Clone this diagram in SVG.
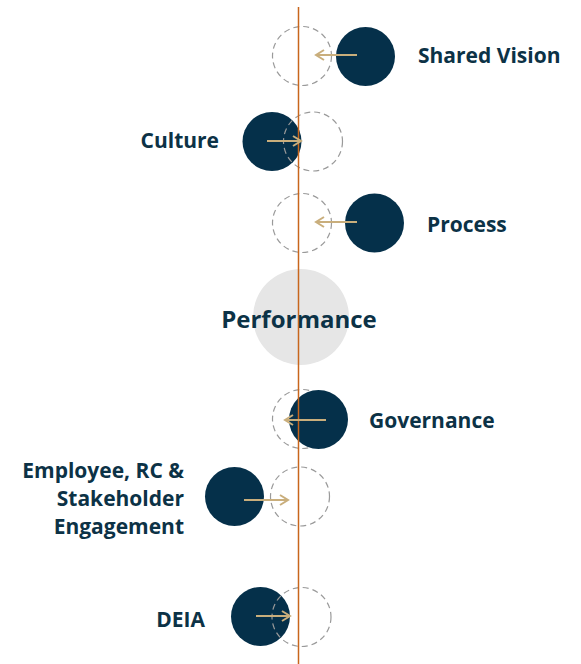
<svg xmlns="http://www.w3.org/2000/svg" width="581" height="664" viewBox="0 0 581 664">
<style>
.dark{fill:#05304a}
.ghost{fill:none;stroke:#9a9a9a;stroke-width:1.2;stroke-dasharray:6 4}
.lbl{font-family:"Open Sans","Noto Sans",sans-serif;font-weight:700;font-size:21px;fill:#0c3246}
.arr{stroke:#c9ae7c;stroke-width:2.2;fill:none;marker-end:url(#ah)}
</style>
<defs>
<marker id="ah" viewBox="0 0 12 12" refX="10" refY="6" markerWidth="12" markerHeight="12" markerUnits="userSpaceOnUse" orient="auto">
<polyline points="2,1 10,6 2,11" fill="none" stroke="#c9ae7c" stroke-width="2"/>
</marker>
</defs>
<g id="performance">
<circle cx="301" cy="317" r="48" fill="#e6e6e6"/>
<text class="lbl" x="299" y="328" text-anchor="middle" style="font-size:24px">Performance</text>
</g>
<g id="shared-vision">
<circle class="ghost" cx="302" cy="56" r="29.5"/>
<circle class="dark" cx="365.5" cy="56.5" r="29.5"/>
<text class="lbl" x="418" y="63">Shared Vision</text>
</g>
<g id="culture">
<circle class="dark" cx="272" cy="141.5" r="29.5"/>
<circle class="ghost" cx="313" cy="141.5" r="29.5"/>
<text class="lbl" x="219" y="148" text-anchor="end">Culture</text>
</g>
<g id="process">
<circle class="ghost" cx="302" cy="223" r="29.5"/>
<circle class="dark" cx="374.5" cy="223" r="29.5"/>
<text class="lbl" x="427" y="232">Process</text>
</g>
<g id="governance">
<circle class="ghost" cx="302" cy="419" r="29.5"/>
<circle class="dark" cx="318.5" cy="419.5" r="29.5"/>
<text class="lbl" x="369" y="428">Governance</text>
</g>
<g id="engagement">
<circle class="dark" cx="234.5" cy="496.5" r="29.5"/>
<circle class="ghost" cx="300" cy="496.5" r="29.5"/>
<text class="lbl" text-anchor="end" x="184" y="478">Employee, RC &amp;</text>
<text class="lbl" text-anchor="end" x="184" y="506">Stakeholder</text>
<text class="lbl" text-anchor="end" x="184" y="534">Engagement</text>
</g>
<g id="deia">
<circle class="dark" cx="260.5" cy="616.5" r="29.5"/>
<circle class="ghost" cx="301.5" cy="617" r="29.5"/>
<text class="lbl" x="205" y="627" text-anchor="end">DEIA</text>
</g>
<g id="connectors">
<line x1="298.5" y1="7" x2="298.5" y2="664" stroke="#c8661c" stroke-width="1.5"/>
<line class="arr" x1="357" y1="55" x2="316" y2="55"/>
<line class="arr" x1="267" y1="141" x2="301" y2="141"/>
<line class="arr" x1="357" y1="222" x2="316" y2="222"/>
<line class="arr" x1="326" y1="420" x2="285" y2="420"/>
<line class="arr" x1="244" y1="500" x2="288" y2="500"/>
<line class="arr" x1="256" y1="616" x2="290" y2="616"/>
</g>
</svg>
